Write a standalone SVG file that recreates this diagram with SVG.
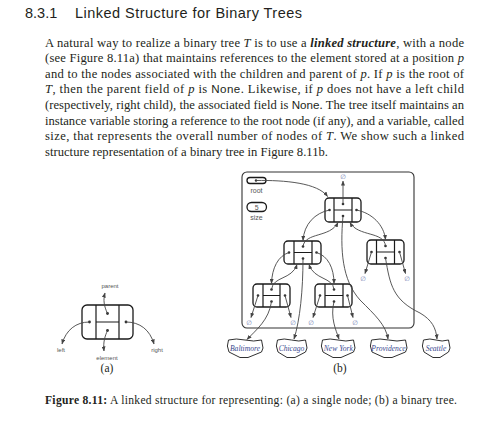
<svg xmlns="http://www.w3.org/2000/svg" width="497" height="430" viewBox="0 0 497 430">
<style>
.p{font-family:"Liberation Serif","Times New Roman",serif;font-size:12.6px;fill:#231f20}
.ns{font-family:"Liberation Sans",Arial,sans-serif;font-size:11.6px}
.ttl{font-family:"Liberation Sans",Arial,sans-serif;font-size:14.5px;fill:#231f20}
.cap{font-family:"Liberation Serif","Times New Roman",serif;font-size:11.6px;fill:#231f20}
.sub{font-family:"Liberation Serif","Times New Roman",serif;font-size:11.5px;fill:#231f20;text-anchor:middle}
.lbl{font-family:"Liberation Sans",Arial,sans-serif;font-size:6px;fill:#555;text-anchor:middle}
.lbl2{font-family:"Liberation Sans",Arial,sans-serif;font-size:7px;fill:#555;text-anchor:middle}
.nul{font-family:"DejaVu Sans",sans-serif;font-size:6.5px;fill:#6b7bb0;text-anchor:middle}
.city{font-family:"Liberation Serif","Times New Roman",serif;font-style:italic;font-size:7.6px;fill:#3a4a90;text-anchor:middle}
.box{fill:#fff;stroke:#1a1a1a;stroke-width:1.3}
.div{stroke:#1a1a1a;stroke-width:1.2;fill:none}
.dot{fill:#333}
.con{fill:none;stroke:#454545;stroke-width:0.9;marker-end:url(#ah)}
.tag{fill:#fff;stroke:#1a1a1a;stroke-width:0.9}
.panel{fill:none;stroke:#333;stroke-width:1.1}
</style>
<defs>
<marker id="ah" markerUnits="userSpaceOnUse" markerWidth="5" markerHeight="4" refX="4.6" refY="2" orient="auto">
<path d="M0,0 L5,2 L0,4 z" fill="#454545"/>
</marker>
</defs>

<g id="text">
<text class="ttl" x="25" y="17.5">8.3.1</text>
<text class="ttl" x="75" y="17.5" textLength="227" lengthAdjust="spacing">Linked Structure for Binary Trees</text>
<text class="p" x="45" y="46.7" textLength="419" lengthAdjust="spacing">A natural way to realize a binary tree <tspan font-style="italic">T</tspan> is to use a <tspan font-weight="bold" font-style="italic">linked structure</tspan>, with a node</text>
<text class="p" x="45" y="62.3" textLength="419" lengthAdjust="spacing">(see Figure 8.11a) that maintains references to the element stored at a position <tspan font-style="italic">p</tspan></text>
<text class="p" x="45" y="77.8" textLength="419" lengthAdjust="spacing">and to the nodes associated with the children and parent of <tspan font-style="italic">p</tspan>.  If <tspan font-style="italic">p</tspan> is the root of</text>
<text class="p" x="45" y="93.4" textLength="419" lengthAdjust="spacing"><tspan font-style="italic">T</tspan>, then the parent field of <tspan font-style="italic">p</tspan> is <tspan class="ns">None</tspan>.  Likewise, if <tspan font-style="italic">p</tspan> does not have a left child</text>
<text class="p" x="45" y="109" textLength="419" lengthAdjust="spacing">(respectively, right child), the associated field is <tspan class="ns">None</tspan>. The tree itself maintains an</text>
<text class="p" x="45" y="124.5" textLength="419" lengthAdjust="spacing">instance variable storing a reference to the root node (if any), and a variable, called</text>
<text class="p" x="45" y="140.1" textLength="419" lengthAdjust="spacing">size, that represents the overall number of nodes of <tspan font-style="italic">T</tspan>.  We show such a linked</text>
<text class="p" x="45" y="155.7" textLength="283" lengthAdjust="spacing">structure representation of a binary tree in Figure 8.11b.</text>
<text class="cap" x="45" y="404" textLength="412" lengthAdjust="spacing"><tspan font-weight="bold">Figure 8.11:</tspan> A linked structure for representing: (a) a single node; (b) a binary tree.</text>
<text class="sub" x="107" y="372">(a)</text>
<text class="sub" x="340" y="372">(b)</text>
</g>

<g id="node-a">
<rect class="box" x="82" y="305" width="51" height="34" rx="5"/>
<path class="div" d="M96,305 V339 M119,305 V339 M96,322 H119"/>
<circle class="dot" cx="89.5" cy="322" r="1.4"/>
<circle class="dot" cx="107.5" cy="313.5" r="1.4"/>
<circle class="dot" cx="107.5" cy="330.5" r="1.4"/>
<circle class="dot" cx="126" cy="322" r="1.4"/>
<text class="lbl" x="110" y="288">parent</text>
<text class="lbl" x="61" y="352">left</text>
<text class="lbl" x="157" y="352">right</text>
<text class="lbl" x="107" y="360">element</text>
</g>

<g id="panel">
<rect class="panel" x="242" y="172" width="172" height="156" rx="5"/>
</g>

<g id="root-var">
<rect class="box" x="247" y="177.5" width="19" height="6" rx="3" stroke-width="1.1"/>
<circle class="dot" cx="256" cy="180.5" r="1.2"/>
<text class="lbl2" x="256.5" y="193">root</text>
</g>
<g id="size-var">
<rect class="box" x="247" y="202.5" width="19.5" height="9" rx="4.5" stroke-width="1.1"/>
<text class="lbl2" x="256.8" y="210.2" font-size="7.5">5</text>
<text class="lbl2" x="256.5" y="219.5">size</text>
</g>

<g id="node-providence">
<rect class="box" x="325" y="198" width="36" height="24" rx="4"/>
<path class="div" d="M334,198 V222 M352,198 V222 M334,210 H352"/>
<circle class="dot" cx="329.5" cy="210" r="1.3"/>
<circle class="dot" cx="343" cy="204" r="1.3"/>
<circle class="dot" cx="343" cy="216" r="1.3"/>
<circle class="dot" cx="356.5" cy="210" r="1.3"/>
</g>
<g id="node-chicago">
<rect class="box" x="284" y="241" width="37" height="23" rx="4"/>
<path class="div" d="M294,241 V264 M312,241 V264 M294,252.5 H312"/>
<circle class="dot" cx="289" cy="252.5" r="1.3"/>
<circle class="dot" cx="303" cy="246.5" r="1.3"/>
<circle class="dot" cx="303" cy="258.5" r="1.3"/>
<circle class="dot" cx="316.5" cy="252.5" r="1.3"/>
</g>
<g id="node-seattle">
<rect class="box" x="367" y="240" width="37" height="24" rx="4"/>
<path class="div" d="M376.5,240 V264 M394.5,240 V264 M376.5,252 H394.5"/>
<circle class="dot" cx="371.5" cy="252" r="1.3"/>
<circle class="dot" cx="385.5" cy="246" r="1.3"/>
<circle class="dot" cx="385.5" cy="258" r="1.3"/>
<circle class="dot" cx="399.5" cy="252" r="1.3"/>
</g>
<g id="node-baltimore">
<rect class="box" x="253" y="284" width="37" height="23" rx="4"/>
<path class="div" d="M263,284 V307 M280,284 V307 M263,295.5 H280"/>
<circle class="dot" cx="258" cy="295.5" r="1.3"/>
<circle class="dot" cx="271.5" cy="289.5" r="1.3"/>
<circle class="dot" cx="271.5" cy="301.5" r="1.3"/>
<circle class="dot" cx="285" cy="295.5" r="1.3"/>
</g>
<g id="node-newyork">
<rect class="box" x="315" y="284" width="37" height="23" rx="4"/>
<path class="div" d="M325,284 V307 M343,284 V307 M325,295.5 H343"/>
<circle class="dot" cx="320" cy="295.5" r="1.3"/>
<circle class="dot" cx="334" cy="289.5" r="1.3"/>
<circle class="dot" cx="334" cy="301.5" r="1.3"/>
<circle class="dot" cx="347.5" cy="295.5" r="1.3"/>
</g>

<g id="nulls">
<text class="nul" x="343" y="178.5">∅</text>
<text class="nul" x="363" y="280.5">∅</text>
<text class="nul" x="407" y="280.5">∅</text>
<text class="nul" x="249" y="324.5">∅</text>
<text class="nul" x="293" y="324.5">∅</text>
<text class="nul" x="311" y="324.5">∅</text>
<text class="nul" x="355" y="324.5">∅</text>
</g>

<g id="elements">
<g id="el-baltimore">
<path class="tag" d="M228.5,340 Q236,338 245,340 T261.5,340 L263,348 L261.5,352 L248,357.5 L240,357.5 L229,352 Q226,346 228.5,340 Z"/>
<text class="city" x="245" y="350.5">Baltimore</text>
</g>
<g id="el-chicago">
<path class="tag" d="M277.5,340 Q284,338 291.5,340 T305.5,340 L307,348 L305.5,352 L295,357.5 L287,357.5 L278,352 Q275,346 277.5,340 Z"/>
<text class="city" x="291.5" y="350.5">Chicago</text>
</g>
<g id="el-newyork">
<path class="tag" d="M322.5,340 Q330,338 338,340 T353.5,340 L355,348 L353.5,352 L341,357.5 L333,357.5 L323,352 Q320,346 322.5,340 Z"/>
<text class="city" x="338.3" y="350.5">New York</text>
</g>
<g id="el-providence">
<path class="tag" d="M371.5,340 Q380,338 388.5,340 T405.5,340 L407,348 L405.5,352 L392,357.5 L384,357.5 L372,352 Q369,346 371.5,340 Z"/>
<text class="city" x="388.5" y="350.5">Providence</text>
</g>
<g id="el-seattle">
<path class="tag" d="M423.5,340 Q430,338 436,340 T448.5,340 L450,348 L448.5,352 L440,357.5 L433,357.5 L424,352 Q421,346 423.5,340 Z"/>
<text class="city" x="436" y="350.5">Seattle</text>
</g>
</g>

<g id="connectors">
<path class="con" d="M107.5,313.5 C104,306 103,300 105,293"/>
<path class="con" d="M89.5,322 C76,322 66,330 62,344"/>
<path class="con" d="M126,322 C140,322 150,330 154,344"/>
<path class="con" d="M107.5,330.5 C105,336 103,342 104,351"/>

<path class="con" d="M256,180.5 C285,180 318,183 327.5,196.5"/>
<path class="con" d="M343,204 V181"/>
<path class="con" d="M329.5,210 C315,213 304,224 303,240.5"/>
<path class="con" d="M303,246.5 C305,232 330,238 338,222.5"/>
<path class="con" d="M356.5,210 C372,213 384,225 385.5,239.5"/>
<path class="con" d="M385.5,246 C384,231 358,237 350,222.5"/>
<path class="con" d="M289,252.5 C278,256 272,268 271.5,283.5"/>
<path class="con" d="M271.5,289.5 C273,276 292,280 297,264.5"/>
<path class="con" d="M316.5,252.5 C328,256 334,268 334,283.5"/>
<path class="con" d="M334,289.5 C333,277 314,280 309,264.5"/>

<path class="con" d="M371.5,252 L365,273.5"/>
<path class="con" d="M399.5,252 L405.5,273.5"/>
<path class="con" d="M258,295.5 L251,317.5"/>
<path class="con" d="M285,295.5 L291,317.5"/>
<path class="con" d="M320,295.5 L313,317.5"/>
<path class="con" d="M347.5,295.5 L353,317.5"/>

<path class="con" d="M271.5,301.5 C269,320 256,330 247,339.5"/>
<path class="con" d="M303,258.5 C303,290 300,320 294,339"/>
<path class="con" d="M334,301.5 C330,318 336,330 339,339"/>
<path class="con" d="M343,216 C340,250 342,280 360,300 C375,315 386,325 388,339"/>
<path class="con" d="M385.5,258 C390,285 393,300 420,313 C432,320 436,328 437,339"/>
</g>
</svg>
